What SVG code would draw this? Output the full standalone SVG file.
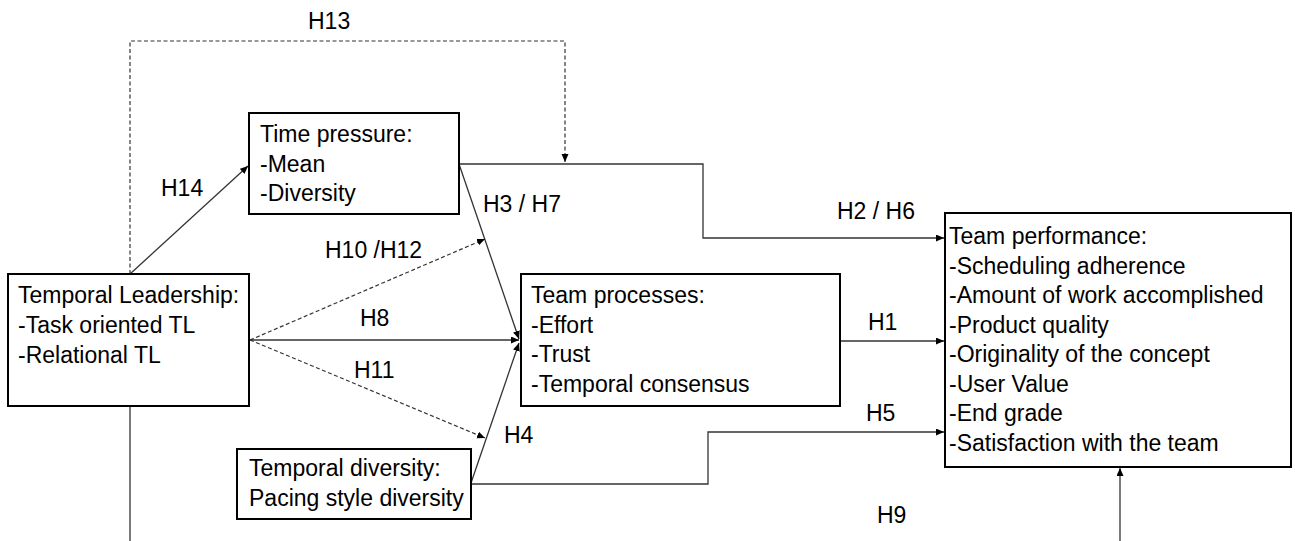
<svg xmlns="http://www.w3.org/2000/svg" width="1295" height="541" viewBox="0 0 1295 541">
<defs>
<marker id="ah" markerUnits="userSpaceOnUse" markerWidth="9" markerHeight="8" refX="8" refY="3.5" orient="auto">
<path d="M0,0 L8,3.5 L0,7 z" fill="#000"/>
</marker>
</defs>
<style>
.box{fill:#fff;stroke:#000;stroke-width:2}
.t{font-family:"Liberation Sans",Arial,sans-serif;font-size:23px;fill:#000}
.c{fill:none;stroke:#333;stroke-width:1.3}
.d{fill:none;stroke:#333;stroke-width:1.2;stroke-dasharray:4 2.5}
</style>
<rect width="1295" height="541" fill="#fff"/>
<g id="connectors">
<path class="d" d="M130,274 V41 H565 V162" marker-end="url(#ah)"/>
<path class="c" d="M130,274 L248,166" marker-end="url(#ah)"/>
<path class="c" d="M130,406 V541"/>
<path class="c" d="M459,164 H703 V238 H944" marker-end="url(#ah)"/>
<path class="c" d="M459,164 L519,339" marker-end="url(#ah)"/>
<path class="d" d="M250,340 L485,239" marker-end="url(#ah)"/>
<path class="c" d="M250,340 H519" marker-end="url(#ah)"/>
<path class="d" d="M250,340 L485,438" marker-end="url(#ah)"/>
<path class="c" d="M471,483 L519,343" marker-end="url(#ah)"/>
<path class="c" d="M840,341 H944" marker-end="url(#ah)"/>
<path class="c" d="M471,484 H708 V432 H944" marker-end="url(#ah)"/>
<path class="c" d="M1120,541 V468" marker-end="url(#ah)"/>
<text class="t" x="308" y="29">H13</text>
<text class="t" x="161" y="196">H14</text>
<text class="t" x="483" y="212">H3 / H7</text>
<text class="t" x="325" y="258">H10 /H12</text>
<text class="t" x="360" y="326">H8</text>
<text class="t" x="354" y="378">H11</text>
<text class="t" x="504" y="443">H4</text>
<text class="t" x="837" y="219">H2 / H6</text>
<text class="t" x="868" y="330">H1</text>
<text class="t" x="866" y="421">H5</text>
<text class="t" x="877" y="523">H9</text>
</g>
<g id="time-pressure">
<rect class="box" x="249" y="113" width="210" height="101"/>
<text class="t" x="260" y="142">Time pressure:</text>
<text class="t" x="260" y="172">-Mean</text>
<text class="t" x="260" y="201">-Diversity</text>
</g>
<g id="temporal-leadership">
<rect class="box" x="8" y="274" width="241" height="132"/>
<text class="t" x="18" y="303">Temporal Leadership:</text>
<text class="t" x="18" y="333">-Task oriented TL</text>
<text class="t" x="18" y="363">-Relational TL</text>
</g>
<g id="team-processes">
<rect class="box" x="521" y="274" width="319" height="132"/>
<text class="t" x="531" y="303">Team processes:</text>
<text class="t" x="531" y="333">-Effort</text>
<text class="t" x="531" y="362">-Trust</text>
<text class="t" x="531" y="392">-Temporal consensus</text>
</g>
<g id="temporal-diversity">
<rect class="box" x="237" y="449" width="234" height="70"/>
<text class="t" x="249" y="476">Temporal diversity:</text>
<text class="t" x="249" y="506">Pacing style diversity</text>
</g>
<g id="team-performance">
<rect class="box" x="945" y="213" width="346" height="254"/>
<text class="t" x="949" y="244">Team performance:</text>
<text class="t" x="949" y="273.5">-Scheduling adherence</text>
<text class="t" x="949" y="303">-Amount of work accomplished</text>
<text class="t" x="949" y="332.5">-Product quality</text>
<text class="t" x="949" y="362">-Originality of the concept</text>
<text class="t" x="949" y="391.5">-User Value</text>
<text class="t" x="949" y="421">-End grade</text>
<text class="t" x="949" y="450.5">-Satisfaction with the team</text>
</g>
</svg>
